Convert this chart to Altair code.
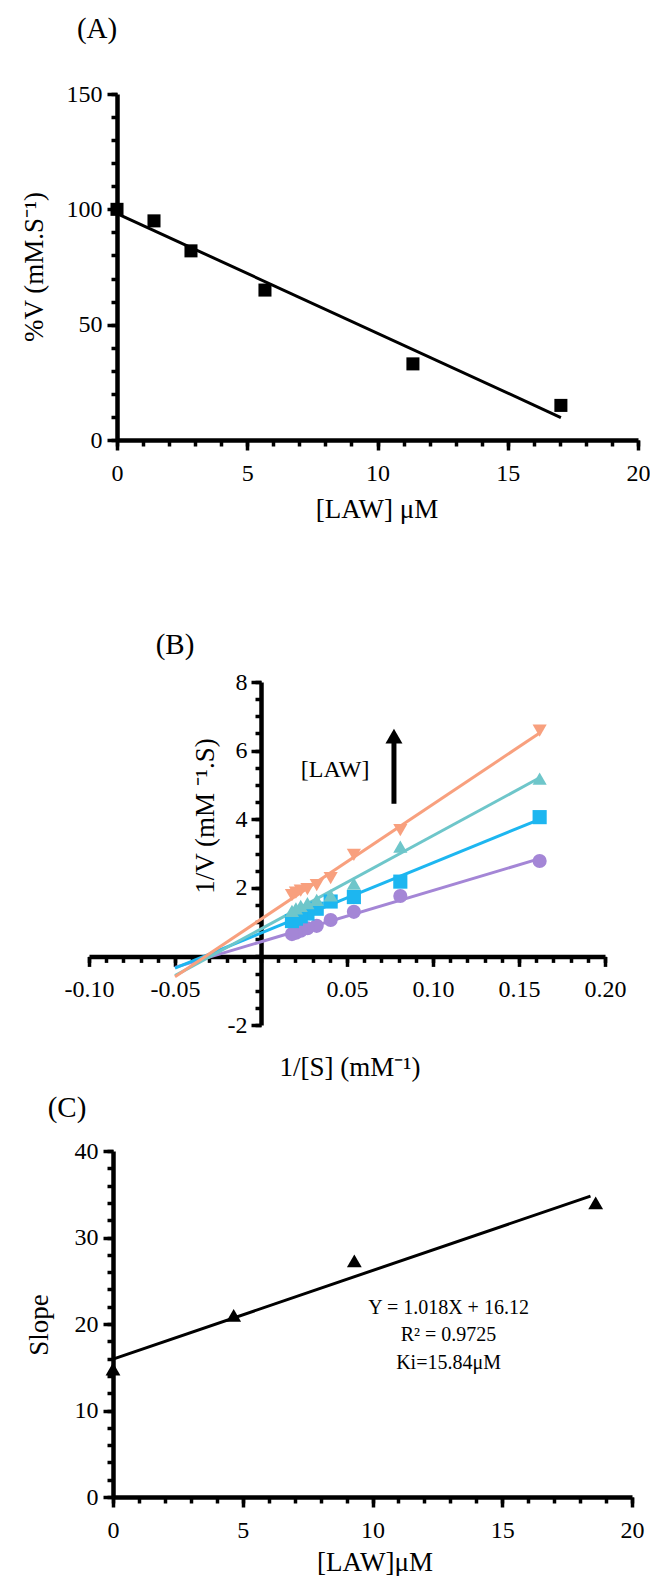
import altair as alt
import pandas as pd

FONT = "Liberation Serif"

# ---------------- data ----------------
# Panel A : % activity vs inhibitor
A_LAW = [0, 1.42, 2.84, 5.68, 11.36, 17.04]
A_V = [100, 95, 82, 65, 33, 15]

# Panel B : Lineweaver-Burk
B_INV_S = [0.162, 0.081, 0.054, 0.0405, 0.0324, 0.027, 0.0231, 0.0203, 0.018]
B_SERIES = ["0 μM", "4.65 μM", "9.3 μM", "18.6 μM"]
B_INV_V_0 = [2.78, 1.76, 1.30, 1.06, 0.89, 0.82, 0.75, 0.69, 0.65]
B_INV_V_1 = [4.06, 2.18, 1.73, 1.60, 1.39, 1.25, 1.17, 1.10, 1.03]
B_INV_V_2 = [5.18, 3.20, 2.12, 1.78, 1.65, 1.55, 1.47, 1.40, 1.33]
B_INV_V_3 = [6.58, 3.68, 2.96, 2.28, 2.08, 1.96, 1.92, 1.86, 1.79]
B_COLORS = ["#A486D6", "#1DB6F0", "#6EC6CA", "#F8A07E"]
B_SHAPES = ["circle", "square", "triangle-up", "triangle-down"]
B_ARROW_X = [0.0773]
B_ARROW_Y = [4.45, 6.25]
B_ARROW_HEAD_Y = [6.42]
B_LAW_LABEL = ["[LAW]"]
B_LAW_LABEL_XY = [0.0431, 5.43]

# Panel C : secondary plot
C_LAW = [0, 4.65, 9.3, 18.6]
C_SLOPE = [14.8, 21.0, 27.3, 34.0]
C_TEXT = ["Y = 1.018X + 16.12", "R² = 0.9725", "Ki=15.84μM"]
C_TEXT_X = [12.93, 12.93, 12.93]
C_TEXT_Y = [21.8, 18.7, 15.5]

one = pd.DataFrame({"k": [0]})

ORIGIN_X = 117  # common left origin of the three panels (grid-aligned)


def major_axis(values, orient, label_padding, label_expr=None, offset=0):
    kw = dict(values=values, orient=orient, tickSize=10, tickWidth=3.5,
              domainWidth=4.5, domainColor="black", tickColor="black",
              labelFont=FONT, labelFontSize=24, labelColor="black",
              labelPadding=label_padding, title=None, grid=False,
              offset=offset, labelOverlap=False, labelFlush=False)
    if label_expr:
        kw["labelExpr"] = label_expr
    return alt.Axis(**kw)


def minor_axis(values, orient, offset=0):
    return alt.Axis(values=values, orient=orient, labels=False, tickSize=6,
                    tickWidth=3.5, domain=False, tickColor="black", title=None,
                    grid=False, offset=offset)


def text(t, px, py, size, angle=0):
    return alt.Chart(one).mark_text(
        text=t, font=FONT, fontSize=size, angle=angle, align="center",
        baseline="middle", color="black"
    ).encode(x=alt.value(px), y=alt.value(py))


def bounds(top, bottom):
    return alt.Chart(one).mark_rule(opacity=0).encode(
        x=alt.value(-ORIGIN_X), x2=alt.value(-ORIGIN_X), y=alt.value(top), y2=alt.value(bottom))


# ---------------- Panel A ----------------
WA, HA = 521, 346
dfA = pd.DataFrame({"law": A_LAW, "v": A_V})
xA = alt.Scale(domain=[0, 20], nice=False, zero=False)
yA = alt.Scale(domain=[0, 150], nice=False, zero=False)

a_pts = alt.Chart(dfA).mark_point(shape="square", filled=True, size=170, color="black", opacity=1).encode(
    x=alt.X("law:Q", scale=xA, axis=major_axis([0, 5, 10, 15, 20], "bottom", 11)),
    y=alt.Y("v:Q", scale=yA, axis=major_axis([0, 50, 100, 150], "left", 5)),
)
a_minor = alt.Chart(dfA).mark_point(opacity=0).encode(
    x=alt.X("law:Q", scale=xA, axis=minor_axis(list(range(0, 21)), "bottom")),
    y=alt.Y("v:Q", scale=yA, axis=minor_axis(list(range(0, 151, 10)), "left")),
)
a_line = alt.Chart(dfA).transform_regression("law", "v", extent=[0, 17.04]).mark_line(
    color="black", strokeWidth=3).encode(
    x=alt.X("law:Q", scale=xA, axis=None),
    y=alt.Y("v:Q", scale=yA, axis=None),
)
panelA = alt.layer(
    a_minor, a_line, a_pts,
    text("(A)", -20, -65, 29),
    text("%V (mM.S⁻¹)", -82, 173, 27, 270),
    text("[LAW] μM", 260, 416, 27),
    bounds(-94, 496),
).properties(width=WA, height=HA).resolve_axis(x="independent", y="independent")

# ---------------- Panel B ----------------
WB, HB = 516, 343
B_START = 89 - ORIGIN_X
rows = []
for s, ys in zip(B_SERIES, [B_INV_V_0, B_INV_V_1, B_INV_V_2, B_INV_V_3]):
    for xv, yv in zip(B_INV_S, ys):
        rows.append({"x": xv, "y": yv, "series": s})
dfB = pd.DataFrame(rows)
xB = alt.Scale(domain=[-0.1, 0.2], range=[B_START, B_START + WB], nice=False, zero=False)
yB = alt.Scale(domain=[-2, 8], nice=False, zero=False)
x_off = -(B_START + WB * (0.1 / 0.3))
y_off = -HB * (2 / 10)
colB = alt.Color("series:N", scale=alt.Scale(domain=B_SERIES, range=B_COLORS), legend=None)
shpB = alt.Shape("series:N", scale=alt.Scale(domain=B_SERIES, range=B_SHAPES), legend=None)

b_pts = alt.Chart(dfB).mark_point(filled=True, size=200, opacity=1).encode(
    x=alt.X("x:Q", scale=xB, axis=major_axis(
        [-0.1, -0.05, 0.05, 0.1, 0.15, 0.2], "bottom", 11,
        "(datum.value < 0 ? '-' : '') + format(abs(datum.value), '.2f')", offset=y_off)),
    y=alt.Y("y:Q", scale=yB, axis=major_axis(
        [-2, 2, 4, 6, 8], "left", 4,
        "(datum.value < 0 ? '-' : '') + format(abs(datum.value), 'd')", offset=x_off)),
    color=colB, shape=shpB,
)
b_minor = alt.Chart(dfB).mark_point(opacity=0).encode(
    x=alt.X("x:Q", scale=xB, axis=minor_axis([round(-0.1 + 0.01 * i, 2) for i in range(31)], "bottom", offset=y_off)),
    y=alt.Y("y:Q", scale=yB, axis=minor_axis([-2 + 0.5 * i for i in range(21)], "left", offset=x_off)),
)
b_lines = alt.Chart(dfB).transform_regression("x", "y", groupby=["series"], extent=[-0.05, 0.162]).mark_line(
    strokeWidth=3).encode(
    x=alt.X("x:Q", scale=xB, axis=None),
    y=alt.Y("y:Q", scale=yB, axis=None),
    color=colB,
)
dfArrow = pd.DataFrame({"x": B_ARROW_X, "y": [B_ARROW_Y[0]], "y2": [B_ARROW_Y[1]]})
b_shaft = alt.Chart(dfArrow).mark_rule(color="black", strokeWidth=5).encode(
    x=alt.X("x:Q", scale=xB, axis=None),
    y=alt.Y("y:Q", scale=yB, axis=None), y2="y2:Q",
)
dfHead = pd.DataFrame({"x": B_ARROW_X, "y": B_ARROW_HEAD_Y})
b_head = alt.Chart(dfHead).mark_point(shape="triangle-up", filled=True, size=289, color="black", opacity=1).encode(
    x=alt.X("x:Q", scale=xB, axis=None),
    y=alt.Y("y:Q", scale=yB, axis=None),
)
dfLawLab = pd.DataFrame({"x": [B_LAW_LABEL_XY[0]], "y": [B_LAW_LABEL_XY[1]], "t": B_LAW_LABEL})
b_lawlab = alt.Chart(dfLawLab).mark_text(font=FONT, fontSize=24, color="black", align="center", baseline="middle").encode(
    x=alt.X("x:Q", scale=xB, axis=None),
    y=alt.Y("y:Q", scale=yB, axis=None),
    text="t:N",
)
panelB = alt.layer(
    b_minor, b_lines, b_pts, b_shaft, b_head, b_lawlab,
    text("(B)", 175 - ORIGIN_X, -37, 29),
    text("1/V (mM ⁻¹.S)", 206 - ORIGIN_X, 134, 27, 270),
    text("1/[S] (mM⁻¹)", 350 - ORIGIN_X, 386, 27),
    bounds(-92, 408),
).properties(width=B_START + WB, height=HB).resolve_axis(x="independent", y="independent")

# ---------------- Panel C ----------------
WC, HC = 519, 346
C_START = 113 - ORIGIN_X
dfC = pd.DataFrame({"law": C_LAW, "slope": C_SLOPE})
xC = alt.Scale(domain=[0, 20], range=[C_START, C_START + WC], nice=False, zero=False)
yC = alt.Scale(domain=[0, 40], nice=False, zero=False)
c_pts = alt.Chart(dfC).mark_point(shape="triangle-up", filled=True, size=220, color="black", opacity=1).encode(
    x=alt.X("law:Q", scale=xC, axis=major_axis([0, 5, 10, 15, 20], "bottom", 11, offset=0)),
    y=alt.Y("slope:Q", scale=yC, axis=major_axis([0, 10, 20, 30, 40], "left", 5, offset=-C_START)),
)
c_minor = alt.Chart(dfC).mark_point(opacity=0).encode(
    x=alt.X("law:Q", scale=xC, axis=minor_axis(list(range(0, 21)), "bottom")),
    y=alt.Y("slope:Q", scale=yC, axis=minor_axis(list(range(0, 41, 2)), "left", offset=-C_START)),
)
c_line = alt.Chart(dfC).transform_regression("law", "slope", extent=[0, 18.4]).mark_line(
    color="black", strokeWidth=3).encode(
    x=alt.X("law:Q", scale=xC, axis=None),
    y=alt.Y("slope:Q", scale=yC, axis=None),
)
dfCT = pd.DataFrame({"x": C_TEXT_X, "y": C_TEXT_Y, "t": C_TEXT})
c_text = alt.Chart(dfCT).mark_text(font=FONT, fontSize=20, color="black", align="center", baseline="middle").encode(
    x=alt.X("x:Q", scale=xC, axis=None),
    y=alt.Y("y:Q", scale=yC, axis=None),
    text="t:N",
)
panelC = alt.layer(
    c_minor, c_line, c_pts, c_text,
    text("(C)", 67 - ORIGIN_X, -43, 29),
    text("Slope", 40 - ORIGIN_X, 174, 27, 270),
    text("[LAW]μM", 375 - ORIGIN_X, 412, 27),
    bounds(-61, 424),
).properties(width=C_START + WC, height=HC).resolve_axis(x="independent", y="independent")

chart = alt.vconcat(panelA, panelB, panelC, spacing=0).properties(padding=0).configure_view(stroke=None)
chart.save("out.html", embed_options={"renderer": "svg", "actions": False})
